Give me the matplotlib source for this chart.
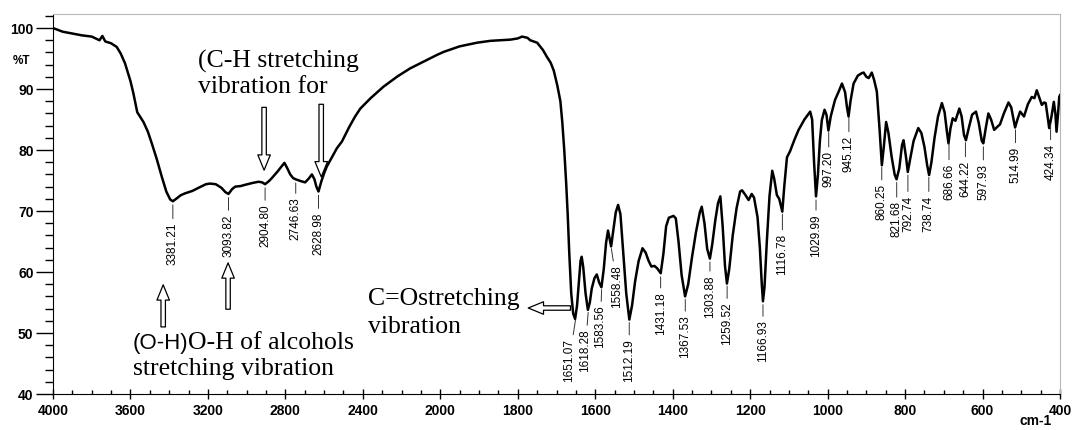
import numpy as np
import matplotlib
matplotlib.use("Agg")
import matplotlib.pyplot as plt
from matplotlib.ticker import FixedLocator

# FTIR spectrum (wavenumber in cm-1, transmittance in %T)
wavenumber = [
    4000, 3950, 3900, 3850, 3800, 3760, 3745, 3730, 3700, 3671, 3650, 3628,
    3600, 3585, 3565, 3555, 3533, 3510, 3490, 3465, 3438, 3415, 3395, 3381,
    3360, 3340, 3318, 3280, 3249, 3210, 3189, 3160, 3130, 3110, 3094, 3075,
    3059, 3030, 3008, 2970, 2939, 2920, 2905, 2885, 2870, 2840, 2820, 2805,
    2790, 2775, 2760, 2747, 2720, 2698, 2680, 2663, 2650, 2640, 2629, 2615,
    2600, 2586, 2560, 2534, 2508, 2470, 2440, 2413, 2360, 2293, 2220, 2155,
    2080, 2017, 1991, 1950, 1905, 1871, 1845, 1819, 1800, 1789, 1775, 1768,
    1750, 1735, 1725, 1715, 1707, 1698, 1690, 1685, 1680, 1675, 1671, 1667,
    1662, 1657, 1652, 1647, 1642, 1638, 1635, 1631, 1625, 1619, 1614, 1609,
    1602, 1596, 1590, 1584, 1578, 1572, 1567, 1563, 1559, 1554, 1547, 1541,
    1535, 1528, 1520, 1512, 1505, 1497, 1488, 1478, 1470, 1462, 1455, 1447,
    1440, 1431, 1424, 1417, 1410, 1398, 1392, 1385, 1377, 1368, 1360, 1350,
    1340, 1330, 1325, 1318, 1311, 1304, 1298, 1290, 1283, 1277, 1271, 1265,
    1260, 1254, 1245, 1235, 1226, 1221, 1212, 1204, 1196, 1190, 1181, 1175,
    1170, 1167, 1163, 1157, 1150, 1143, 1138, 1131, 1125, 1117, 1112, 1105,
    1097, 1085, 1075, 1060, 1045, 1040, 1035, 1030, 1025, 1020, 1015, 1008,
    1003, 998, 992, 981, 970, 963, 955, 950, 946, 941, 933, 922,
    912, 907, 900, 894, 886, 880, 873, 866, 860, 855, 849, 843,
    835, 827, 822, 815, 808, 804, 798, 793, 787, 778, 766, 758,
    750, 743, 738, 732, 724, 715, 705, 698, 692, 688, 683, 677,
    670, 660, 654, 648, 643, 636, 627, 617, 610, 602, 598, 592,
    585, 578, 570, 562, 555, 545, 533, 526, 520, 516, 510, 503,
    493, 483, 473, 466, 460, 453, 447, 441, 437, 432, 428, 422,
    416, 412, 409, 405, 402, 400,
]
transmittance = [
    100.0, 99.4, 99.1, 98.8, 98.6, 98.0, 98.7, 97.8, 97.5, 96.9, 95.8, 94.2,
    91.3, 89.3, 86.2, 85.7, 84.6, 83.0, 81.1, 78.6, 75.6, 73.2, 71.9, 71.6,
    72.1, 72.6, 72.9, 73.3, 73.8, 74.4, 74.5, 74.4, 73.8, 73.1, 72.8, 73.6,
    74.0, 74.1, 74.3, 74.6, 74.8, 74.7, 74.4, 74.9, 75.4, 76.5, 77.3, 77.9,
    77.0, 76.0, 75.4, 75.2, 74.9, 74.7, 75.3, 76.0, 75.2, 74.0, 73.2, 74.8,
    76.2, 77.3, 78.8, 80.3, 81.4, 83.8, 85.5, 86.8, 88.5, 90.4, 92.1, 93.4,
    94.6, 95.6, 96.1, 97.0, 97.6, 97.9, 98.0, 98.1, 98.3, 98.6, 98.4, 98.0,
    97.6, 96.4, 95.3, 94.3, 93.0, 90.6, 88.0, 84.5, 80.0, 74.5, 69.3, 63.0,
    56.5, 53.2, 52.3, 54.5, 58.5, 61.8, 62.5, 60.8, 56.5, 53.8, 55.0, 57.3,
    59.0, 59.6, 58.3, 57.5, 60.5, 64.8, 66.8, 65.5, 64.2, 66.5, 69.8, 71.0,
    69.5, 63.5, 56.5, 52.2, 54.5, 58.5, 61.8, 63.9, 63.2, 61.8, 60.9, 61.0,
    60.6, 59.8, 63.0, 67.5, 68.9, 69.2, 68.8, 65.0, 59.5, 56.0, 58.0, 62.5,
    66.5, 69.8, 70.7, 68.0, 63.8, 62.2, 64.5, 68.5, 71.3, 72.4, 67.5, 61.0,
    58.1, 60.5, 66.0, 70.5, 73.2, 73.4, 72.6, 71.8, 72.8, 72.2, 69.0, 64.0,
    58.0, 55.2, 57.5, 65.0, 72.5, 76.6, 75.3, 72.6, 72.0, 69.9, 74.0, 78.8,
    79.8, 81.8, 83.3, 85.0, 86.3, 85.0, 78.0, 72.4, 76.0, 81.5, 84.9, 86.6,
    85.8, 83.2, 85.5, 88.2, 89.8, 90.9, 89.5, 87.0, 85.5, 88.0, 90.9, 92.2,
    92.6, 92.7, 92.0, 91.8, 92.7, 91.5, 89.6, 83.5, 77.5, 80.5, 84.6, 82.8,
    79.0, 76.0, 75.2, 77.0, 80.8, 81.6, 79.0, 76.4, 78.5, 81.5, 83.6, 82.8,
    80.5, 77.5, 75.9, 78.0, 82.0, 85.5, 87.7, 86.2, 83.0, 81.1, 83.5, 85.2,
    84.8, 86.8, 85.5, 82.5, 81.6, 83.5, 85.8, 86.3, 84.5, 81.5, 81.1, 83.5,
    86.0, 85.0, 83.3, 83.8, 84.2, 86.0, 87.8, 87.0, 85.0, 83.7, 85.0, 86.3,
    85.5, 87.5, 88.7, 88.5, 89.8, 88.5, 87.4, 87.8, 87.7, 85.5, 83.6, 85.5,
    87.9, 86.0, 83.0, 86.0, 88.7, 89.0,
]

# Peak picks printed on the spectrum
peaks = [3381.21, 3093.82, 2904.80, 2746.63, 2628.98, 1651.07, 1618.28,
         1583.56, 1558.48, 1512.19, 1431.18, 1367.53, 1303.88, 1259.52,
         1166.93, 1116.78, 1029.99, 997.20, 945.12, 860.25, 821.68, 792.74,
         738.74, 686.66, 644.22, 597.93, 514.99, 424.34]
# where the bottom of each rotated label sits (%T)
label_bottom = [61.1, 62.5, 64.1, 65.2, 62.8, 42.0, 43.6, 47.5, 54.1, 42.0,
                49.7, 45.9, 52.5, 48.0, 45.2, 59.5, 62.5, 73.9, 76.4, 68.5,
                65.7, 66.6, 66.6, 71.8, 72.3, 71.8, 74.6, 75.1]
# crowded labels are pushed sideways
label_shift = {1651.07: 1667, 1618.28: 1626, 1583.56: 1587, 1558.48: 1543}


# axis above 2000 cm-1 is compressed by a factor two
def fwd(x):
    x = np.asarray(x, dtype=float)
    return np.where(x > 2000, 2000 + (x - 2000) / 2, x)


def inv(v):
    v = np.asarray(v, dtype=float)
    return np.where(v > 2000, 2000 + (v - 2000) * 2, v)


fig = plt.figure(figsize=(10.73, 4.30), dpi=100)
ax = fig.add_axes([0.0494, 0.0837, 0.9385, 0.8837])
ax.set_xscale('function', functions=(fwd, inv))
ax.plot(wavenumber, transmittance, color='black', lw=1.8)
ax.set_xlim(4000, 400)
ax.set_ylim(40, 102.3)

# Ticks
major_x = [4000, 3600, 3200, 2800, 2400, 2000, 1800, 1600, 1400, 1200,
           1000, 800, 600, 400]
minor_x = list(range(3900, 2000, -100)) + list(range(1950, 400, -50))
ax.xaxis.set_major_locator(FixedLocator(major_x))
ax.xaxis.set_minor_locator(FixedLocator([m for m in minor_x if m not in major_x]))
ax.set_yticks(range(40, 101, 10))
ax.yaxis.set_minor_locator(FixedLocator(range(42, 103, 2)))
ax.tick_params(axis='x', which='major', direction='inout', length=7, width=1, pad=4)
ax.tick_params(axis='x', which='minor', direction='in', length=3, width=1)
ax.tick_params(axis='y', which='major', direction='out', length=12, width=1, pad=2)
ax.tick_params(axis='y', which='minor', direction='out', length=6, width=1)
for lab in ax.get_xticklabels() + ax.get_yticklabels():
    lab.set_fontfamily('Liberation Sans')
    lab.set_fontweight('bold')
    lab.set_fontsize(10)

for side in ['top', 'right']:
    ax.spines[side].set_color('#b8b8b8')
for side in ['left', 'bottom']:
    ax.spines[side].set_color('black')

fig.text(0.0205, 0.858, '%T', fontsize=8.5, fontweight='bold',
         family='Liberation Sans', ha='center', va='center')
fig.text(0.9655, 0.02, 'cm-1', fontsize=10, fontweight='bold',
         family='Liberation Sans', ha='center', va='center')

# Peak labels
t_at = lambda w: np.interp(w, wavenumber[::-1], transmittance[::-1])
for p, yb in zip(peaks, label_bottom):
    tx = label_shift.get(p, p)
    ax.annotate(f'{p:.2f}', xy=(p, t_at(p) - 0.6), xytext=(tx, yb),
                rotation=90, ha='center', va='bottom', fontsize=8.5,
                family='Liberation Sans',
                arrowprops=dict(arrowstyle='-', lw=0.7, color='#333333',
                                shrinkA=1, shrinkB=0))

# Band assignments
serif = dict(family='Liberation Serif', fontsize=18.5, va='baseline', ha='left')
ax.text(3251, 93.6, '(C-H stretching', **serif)
ax.text(3251, 89.3, 'vibration for', **serif)
ax.text(3587, 47.4, '(O-H)', family='Liberation Sans', fontsize=16,
        va='baseline', ha='left')
ax.text(3302, 47.4, 'O-H of alcohols', **serif)
ax.text(3587, 43.1, 'stretching vibration', **serif)
ax.text(2372, 54.6, 'C=Ostretching', **serif)
ax.text(2372, 50.0, 'vibration', **serif)

arrow = dict(arrowstyle='simple,head_width=0.45,head_length=0.55,tail_width=0.16',
             fc='white', ec='black', lw=0.9, mutation_scale=20,
             shrinkA=0, shrinkB=0)
ax.annotate('', xy=(2910, 76.7), xytext=(2910, 87.0), arrowprops=arrow)
ax.annotate('', xy=(2615, 75.6), xytext=(2615, 87.5), arrowprops=arrow)
ax.annotate('', xy=(3431, 57.9), xytext=(3431, 51.0), arrowprops=arrow)
ax.annotate('', xy=(3096, 61.5), xytext=(3096, 53.9), arrowprops=arrow)
ax.annotate('', xy=(1773, 54.1), xytext=(1664, 54.1), arrowprops=arrow)

fig.savefig('out.png', dpi=100)
